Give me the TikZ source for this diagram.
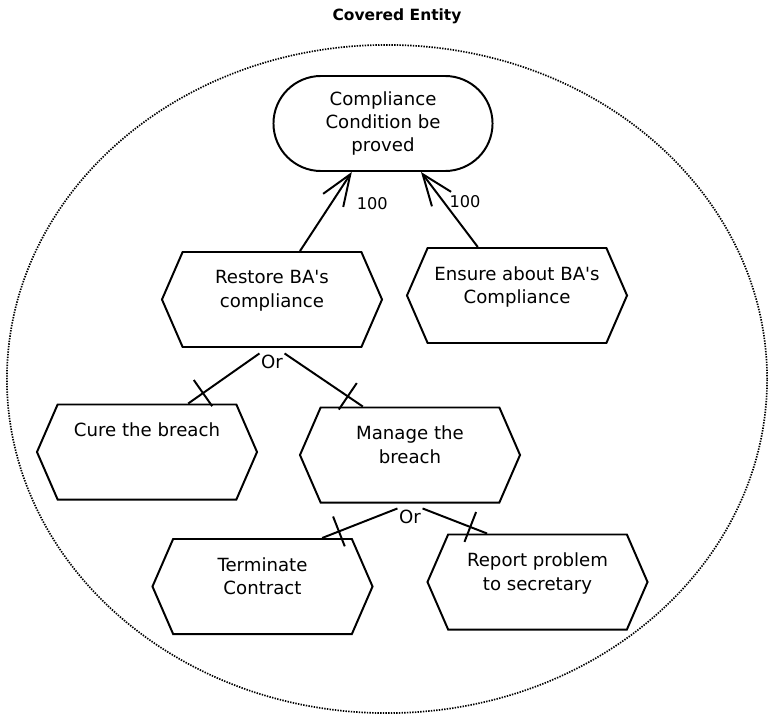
\documentclass[tikz,border=0pt]{standalone}
\usepackage{fontspec}
\setmainfont{DejaVu Sans}
\usetikzlibrary{positioning, arrows.meta, shapes.misc, shapes.symbols, decorations.markings}

\begin{document}
\begin{tikzpicture}[
  x=0.025cm, y=-0.025cm,
  every node/.style={font=\fontsize{12.9}{16.7}\selectfont},
  goal/.style={draw, rounded rectangle, line width=1.4pt, minimum width=5.475cm, minimum height=2.375cm, align=center, inner sep=0pt},
  task/.style={draw, signal, signal to=east and west, signal pointer angle=133, line width=1.4pt, minimum width=5.5cm, minimum height=2.375cm, inner sep=0pt,
    execute at begin node={\begin{minipage}[c][1.45cm][t]{4.35cm}\centering},
    execute at end node={\end{minipage}}},
  orlbl/.style={inner sep=1pt},
  num/.style={font=\fontsize{11.5}{13}\selectfont, inner sep=0pt},
  contrib/.style={-{Straight Barb[length=0.78cm, width=0.6cm]}, line width=1.4pt},
  orlink/.style={line width=1.4pt, postaction={decorate},
    decoration={markings, mark=at position -0.45cm with {\draw[line width=1.4pt] (0,-0.4cm) -- (0,0.4cm);}}},
]
  \useasboundingbox (0,0) rectangle (768,715);

  % Boundary
  \node[font=\fontsize{11}{13}\selectfont\bfseries] (entity) at (397,16) {Covered Entity};
  \draw[line width=1.2pt, dash pattern=on 1pt off 0.9pt] (387,379) ellipse [x radius=9.5cm, y radius=8.35cm];

  % Goal
  \node[goal] (proved) at (383,123.5) {Compliance\\Condition be\\proved};

  % Second level
  \node[task] (restore) at (272,299.5) {Restore BA\textquotesingle s\\compliance};
  \node[task] (ensure) at (517,295.5) {Ensure about BA\textquotesingle s\\Compliance};

  % Third level
  \node[task] (cure) at (147,452) {Cure the breach};
  \node[task] (manage) at (410,455) {Manage the\\breach};

  % Fourth level
  \node[task] (terminate) at (262.5,586.5) {Terminate\\Contract};
  \node[task] (report) at (537.5,582) {Report problem\\to secretary};

  % Or labels
  \node[orlbl] (orA) at (272,362) {Or};
  \node[orlbl] (orB) at (410,517) {Or};

  % Contributions
  \draw[contrib] ([xshift=0.7cm]restore.north) -- ([xshift=-0.78cm]proved.south)
    node[num, pos=0.6, anchor=west, xshift=0.62cm] {100};
  \draw[contrib] ([xshift=-0.98cm]ensure.north) -- ([xshift=0.95cm]proved.south)
    node[num, pos=0.6, anchor=west, xshift=0.12cm] {100};

  % Decompositions
  \draw[orlink] (orA.north west) -- ([xshift=1.03cm]cure.north);
  \draw[orlink] (orA.north east) -- ([xshift=-1.18cm]manage.north);
  \draw[orlink] (orB.north west) -- ([xshift=1.49cm]terminate.north);
  \draw[orlink] (orB.north east) -- ([xshift=-1.26cm]report.north);
\end{tikzpicture}
\end{document}
